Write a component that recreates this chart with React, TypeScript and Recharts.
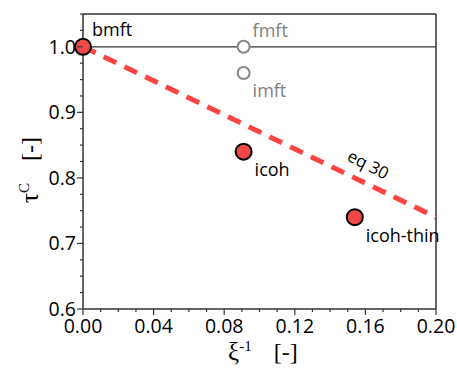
import React from "react";
import { ScatterChart, Scatter, XAxis, YAxis, ReferenceLine, Customized } from "recharts";

// measured points (red, black edge)
const simNames = ["bmft", "icoh", "icoh-thin"];
const simX = [0, 0.091, 0.154];
const simY = [1.0, 0.84, 0.74];

// reference points (hollow grey)
const refNames = ["fmft", "imft"];
const refX = [0.091, 0.091];
const refY = [1.0, 0.96];

// eq 30 line and tau = 1 line
const eqX = [0, 0.2];
const eqY = [1.0, 0.74];
const unitX = [0, 0.2];
const unitY = [1.0, 1.0];

const xMajor = [0, 0.04, 0.08, 0.12, 0.16, 0.2];
const xTicks = [0, 0.01, 0.02, 0.03, 0.04, 0.05, 0.06, 0.07, 0.08, 0.09, 0.1, 0.11, 0.12, 0.13, 0.14, 0.15, 0.16, 0.17, 0.18, 0.19, 0.2];
const yMajor = [0.6, 0.7, 0.8, 0.9, 1.0];
const yTicks = [0.6, 0.625, 0.65, 0.675, 0.7, 0.725, 0.75, 0.775, 0.8, 0.825, 0.85, 0.875, 0.9, 0.925, 0.95, 0.975, 1.0, 1.025, 1.05];

const zip = (names: string[], xs: number[], ys: number[]) => xs.map((x, i) => ({ name: names[i], x, y: ys[i] }));
const simData = zip(simNames, simX, simY);
const refData = zip(refNames, refX, refY);
const eqData = eqX.map((x, i) => ({ x, y: eqY[i] }));
const unitData = unitX.map((x, i) => ({ x, y: unitY[i] }));

const SANS = "'Open Sans', sans-serif";
const SERIF = "'Liberation Serif', 'DejaVu Serif', serif";
const AXIS = "#333";

// label offsets relative to point centre
const labelPos: Record<string, [number, number]> = {
  bmft: [9, -11],
  fmft: [9, -10],
  imft: [9, 24],
  icoh: [11, 24],
  "icoh-thin": [11, 25],
};

const SimDot = (props: any) => {
  const { cx, cy, payload } = props;
  const [dx, dy] = labelPos[payload.name];
  return (
    <g>
      <circle cx={cx} cy={cy} r={8} fill="#f24848" stroke="#000" strokeWidth={2} />
      <text x={cx + dx} y={cy + dy} fontSize={18} fontFamily={SANS} fill="#000">{payload.name}</text>
    </g>
  );
};

const RefDot = (props: any) => {
  const { cx, cy, payload } = props;
  const [dx, dy] = labelPos[payload.name];
  return (
    <g>
      <circle cx={cx} cy={cy} r={6} fill="#fff" stroke="#888" strokeWidth={2} />
      <text x={cx + dx} y={cy + dy} fontSize={18} fontFamily={SANS} fill="#808080">{payload.name}</text>
    </g>
  );
};

const NoDot = () => <g />;

const XTick = (props: any) => {
  const { x, y, payload } = props;
  const major = xMajor.includes(payload.value);
  return (
    <g>
      <line x1={x} x2={x} y1={y} y2={y + (major ? 6 : 3)} stroke={AXIS} strokeWidth={1.2} />
      {major && (
        <text x={x} y={y + 24} textAnchor="middle" fontSize={19.5} fontFamily={SANS} fill="#000">
          {payload.value.toFixed(2)}
        </text>
      )}
    </g>
  );
};

const YTick = (props: any) => {
  const { x, y, payload } = props;
  const major = yMajor.includes(payload.value);
  return (
    <g>
      <line x1={x} x2={x - (major ? 6 : 3)} y1={y} y2={y} stroke={AXIS} strokeWidth={1.2} />
      {major && (
        <text x={x - 7} y={y + 7} textAnchor="end" fontSize={19.5} fontFamily={SANS} fill="#000">
          {payload.value.toFixed(1)}
        </text>
      )}
    </g>
  );
};

const Titles = () => (
  <g fontFamily={SERIF} fill="#000">
    <text x={228} y={360} fontSize={25}>
      ξ<tspan dy={-9} fontSize={15}>-1</tspan>
      <tspan dy={9} dx={22} fontSize={24}>[-]</tspan>
    </text>
    <text transform="translate(38,203) rotate(-90)" fontSize={25}>
      τ<tspan dy={-9} fontSize={15}>C</tspan>
      <tspan dy={9} dx={22} fontSize={24}>[-]</tspan>
    </text>
    <text transform="translate(346,160) rotate(27)" fontSize={17} fontFamily={SANS}>eq 30</text>
  </g>
);

export default function App() {
  return (
    <div style={{ position: "absolute", left: 0, top: 0, background: "#fff" }}>
      <ScatterChart width={457} height={371} margin={{ top: 14, right: 21, left: 0, bottom: 0 }}>
        <XAxis
          type="number"
          dataKey="x"
          domain={[0, 0.2]}
          ticks={xTicks}
          interval={0}
          tick={<XTick />}
          tickLine={false}
          tickSize={0}
          tickMargin={0}
          height={62}
          axisLine={{ stroke: AXIS, strokeWidth: 1.5 }}
        />
        <YAxis
          type="number"
          dataKey="y"
          domain={[0.6, 1.05]}
          ticks={yTicks}
          interval={0}
          tick={<YTick />}
          tickLine={false}
          tickSize={0}
          tickMargin={0}
          width={83}
          axisLine={{ stroke: AXIS, strokeWidth: 1.5 }}
        />
        <ReferenceLine y={1.05} stroke={AXIS} strokeWidth={1.5} />
        <ReferenceLine x={0.2} stroke={AXIS} strokeWidth={1.5} />
        <Scatter data={unitData} shape={<NoDot />} line={{ stroke: AXIS, strokeWidth: 1.3 }} isAnimationActive={false} />
        <Scatter
          data={eqData}
          shape={<NoDot />}
          line={{ stroke: "#ff4444", strokeWidth: 5, strokeDasharray: "14 9" }}
          isAnimationActive={false}
        />
        <Scatter data={refData} shape={<RefDot />} isAnimationActive={false} />
        <Scatter data={simData} shape={<SimDot />} isAnimationActive={false} />
        <Customized component={Titles} />
      </ScatterChart>
    </div>
  );
}
